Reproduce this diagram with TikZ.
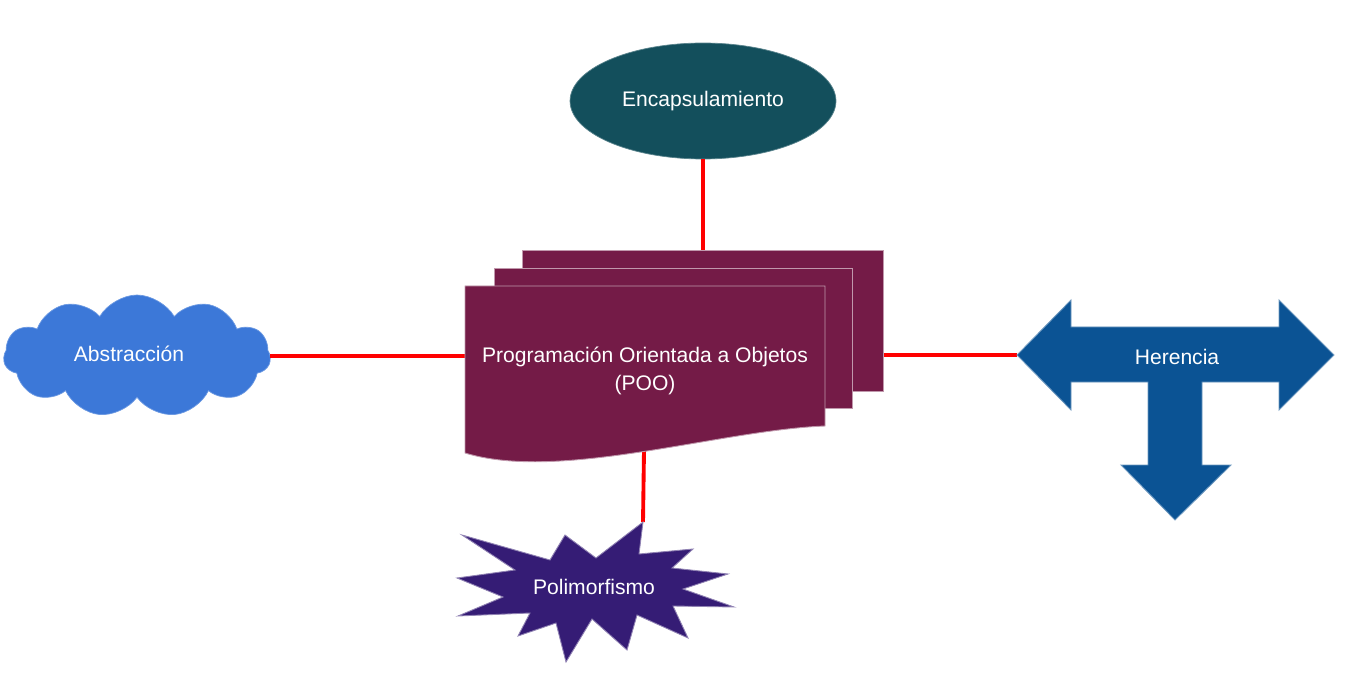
\documentclass[tikz,border=0pt]{standalone}
\usepackage{fontspec}
\setmainfont{Liberation Sans}
\usepackage{tikz}
\usetikzlibrary{shapes.geometric, shapes.symbols}
\definecolor{encfill}{HTML}{134F5C}
\definecolor{absfill}{HTML}{3C78D8}
\definecolor{herfill}{HTML}{0B5394}
\definecolor{polfill}{HTML}{351C75}
\definecolor{poofill}{HTML}{741B47}

\begin{document}
\begin{tikzpicture}[x=0.02cm, y=-0.02cm,
                every node/.style={text=white, font=\fontsize{12}{16}\selectfont, inner sep=0pt, outer sep=0pt}, % White labels
                sheet/.style={fill=poofill, draw=poofill!45!white, line width=0.5pt}, % Stacked pages
                conn/.style={draw=red, line width=2.2pt} % Red links
                ]
                \useasboundingbox (0,0) rectangle (1345,692);
                % links
                \coordinate (poo-w) at (465,355);
                \coordinate (poo-s) at (644,450);
                \coordinate (her-w) at (1017,355);
                \coordinate (pol-n) at (643,522);
                \node[sheet, draw=none, fill=none, minimum width=7.22cm, minimum height=2.82cm] (back) at (702.5,320.5) {};
                \node[cloud, cloud puffs=11, cloud puff arc=120, aspect=2.2, fill=absfill, draw=absfill!75!white,
                      minimum width=5.34cm, minimum height=2.44cm] (abs) at (137,356) {};
                \node (abs-txt) at (129,354) {Abstracción};
                \node[ellipse, fill=encfill, draw=encfill!70!white, minimum width=5.32cm, minimum height=2.32cm] (enc) at (703,101) {Encapsulamiento};
                \draw[conn] (enc.south) -- (enc.south |- back.north);
                \draw[conn] (abs.east) -- (abs.east -| poo-w);
                \draw[conn] (her-w -| back.east) -- (her-w);
                \draw[conn] (poo-s) -- (pol-n);
                % pages
                \node[sheet, minimum width=7.22cm, minimum height=2.82cm] at (702.5,320.5) {};
                \node[sheet, minimum width=7.16cm, minimum height=2.8cm] (middle) at (673,338) {};
                \draw[sheet] (465,286) -- (825,286) -- (825,426) .. controls (720,430) and (560,482) .. (465,453) -- cycle;
                \node[align=center] (poo) at (645,371) {Programación Orientada a Objetos\\(POO)};
                % Herencia
                \draw[fill=herfill, draw=herfill!60!white, line width=0.5pt]
                    (her-w) -- (1071,300) -- (1071,327) -- (1279,327) -- (1279,300) -- (1334,355) -- (1279,410) -- (1279,382)
                    -- (1202,382) -- (1202,465) -- (1231,465) -- (1175,520) -- (1121,465) -- (1148,465) -- (1148,382)
                    -- (1071,382) -- (1071,410) -- cycle;
                \node (her) at (1177,357) {Herencia};
                % Polimorfismo
                \draw[fill=polfill, draw=polfill!55!white, line width=0.5pt]
                    (pol-n) -- (639,554) -- (693,549) -- (672,568) -- (728,574) -- (683,589) -- (734,607) -- (673,606)
                    -- (688,638) -- (637,615) -- (627,650) -- (592,619) -- (566,662) -- (556,623) -- (518,636) -- (530,613)
                    -- (458,616) -- (503,597) -- (457,578) -- (515,570) -- (462,535) -- (550,560) -- (565,535) -- (596,558) -- cycle;
                \node (pol) at (594,587) {Polimorfismo};
            \end{tikzpicture}
\end{document}
